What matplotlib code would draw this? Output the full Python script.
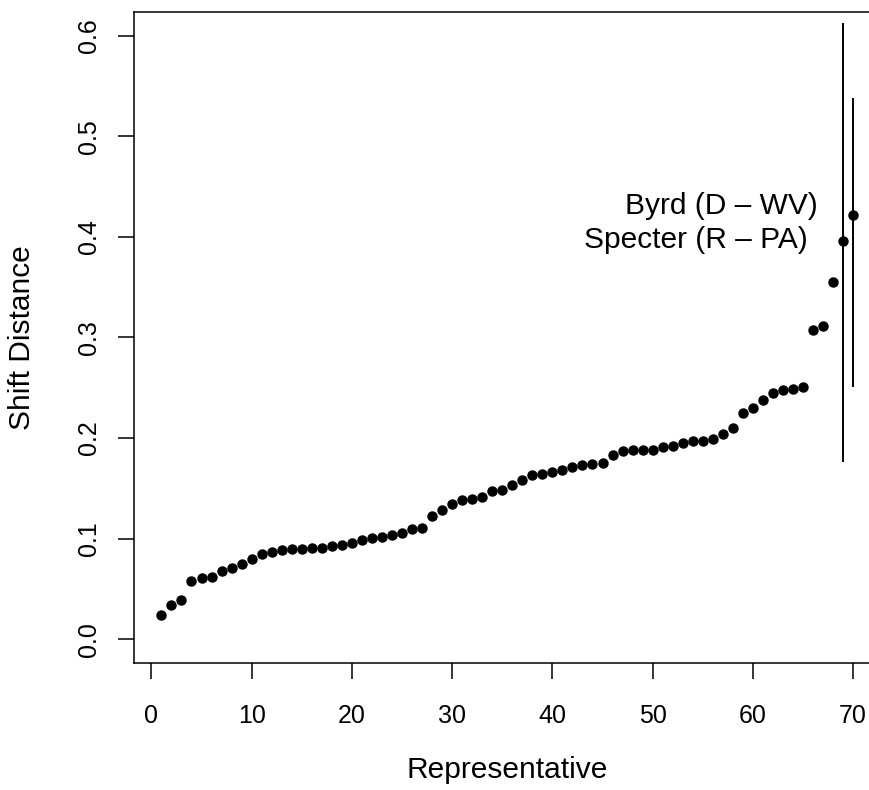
import matplotlib
matplotlib.use("Agg")
import matplotlib.pyplot as plt

plt.rcParams['font.family'] = ['Liberation Sans', 'DejaVu Sans']

# shift distance per representative, sorted
shift = [0.0245, 0.034, 0.0387, 0.058, 0.0605, 0.062, 0.068, 0.071, 0.0744, 0.080,
         0.085, 0.087, 0.089, 0.090, 0.090, 0.091, 0.091, 0.0925, 0.094, 0.0955,
         0.099, 0.101, 0.102, 0.1035, 0.106, 0.110, 0.111, 0.122, 0.1287, 0.134,
         0.138, 0.139, 0.1415, 0.147, 0.148, 0.153, 0.158, 0.163, 0.164, 0.166,
         0.168, 0.171, 0.173, 0.1745, 0.175, 0.183, 0.1875, 0.188, 0.188, 0.188,
         0.191, 0.1925, 0.195, 0.197, 0.1975, 0.1995, 0.204, 0.210, 0.225, 0.2295,
         0.238, 0.245, 0.2477, 0.2487, 0.2507, 0.307, 0.311, 0.3555, 0.396, 0.4216]
rep = list(range(1, len(shift) + 1))

# intervals for the two labelled senators
ci_rep = [69, 70]
ci_lo = [0.176, 0.2507]
ci_hi = [0.613, 0.538]
labels = ["Specter (R \u2013 PA)", "Byrd (D \u2013 WV)"]
label_y = [0.397, 0.4305]

fig = plt.figure(figsize=(8.69, 7.90), dpi=100)
ax = fig.add_axes([0.1539, 0.1604, 0.8597, 0.8248])

ax.plot(rep, shift, 'o', color='black', markersize=6.5)
ax.vlines(ci_rep, ci_lo, ci_hi, color='black', linewidth=1.4)
for r, y, lab in zip(ci_rep, label_y, labels):
    ax.text(r - 3.5, y, lab, ha='right', va='center', fontsize=21.5)

ax.set_xlim(-1.76, 72.76)
ax.set_ylim(-0.024, 0.624)
ax.set_xticks([0, 10, 20, 30, 40, 50, 60, 70])
ax.set_yticks([0.0, 0.1, 0.2, 0.3, 0.4, 0.5, 0.6])
ax.set_yticklabels(["0.0", "0.1", "0.2", "0.3", "0.4", "0.5", "0.6"], rotation=90, va='center')
ax.tick_params(labelsize=18, length=11.5, width=1.1)
ax.tick_params(axis='x', pad=18)
ax.tick_params(axis='y', pad=12)
for s in ax.spines.values():
    s.set_linewidth(1.1)

# axis titles placed like R's mtext lines
fig.text(0.5838, (790 - 778) / 790, "Representative", fontsize=21.5, ha='center', va='baseline')
fig.text(22.5 / 869, 1 - 337.5 / 790, "Shift Distance", fontsize=21.5, ha='center', va='center', rotation=90)

fig.savefig("out.png", dpi=100)
